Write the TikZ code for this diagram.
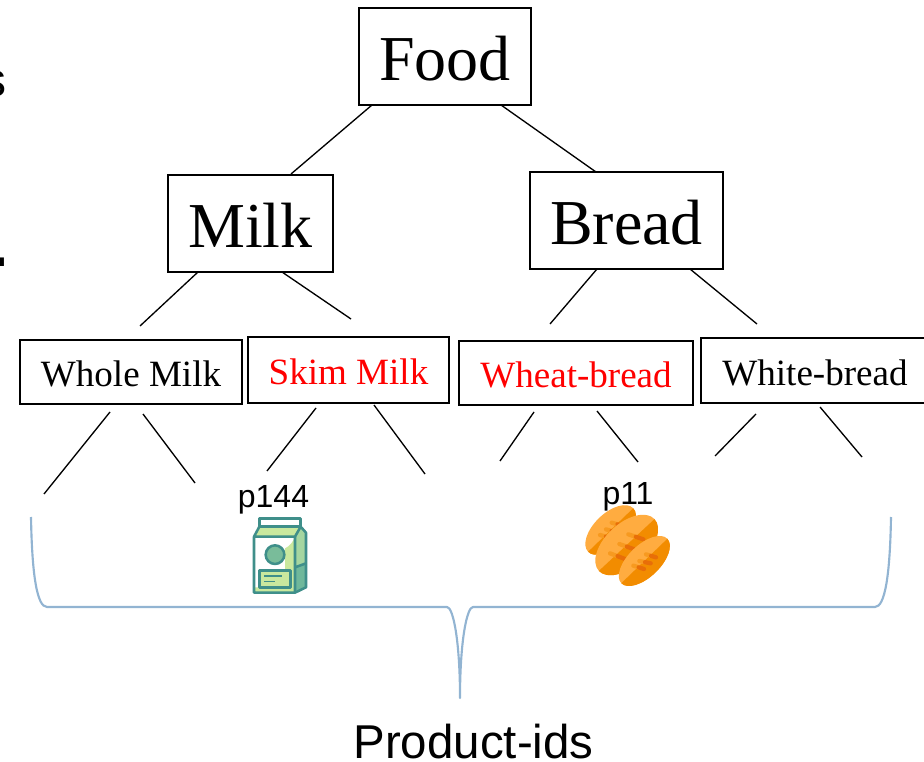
\documentclass[tikz,border=0pt]{standalone}
\usepackage{fontspec}
\setmainfont{Liberation Serif}
\newfontfamily\arialf{Liberation Sans}
\usetikzlibrary{calc}
\definecolor{bracec}{HTML}{92B4D2}
\definecolor{teal}{HTML}{3F8F8A}
\definecolor{lgreen}{HTML}{C9E89E}
\definecolor{mgreen}{HTML}{A5D6A0}
\definecolor{dgreen}{HTML}{6FB89B}
\definecolor{cgreen}{HTML}{79BC9A}
\definecolor{loaflight}{HTML}{FFAC40}
\definecolor{loafdark}{HTML}{F28C00}
\definecolor{scarlight}{HTML}{F79A20}
\definecolor{scardark}{HTML}{E86E08}
\tikzset{
  box/.style={draw=black,line width=1pt,inner sep=0pt,align=center},
  bigbox/.style={box,font=\fontsize{48}{48}\selectfont,text height=36pt,text depth=0pt},
  smallbox/.style={box,font=\fontsize{27.8}{30}\selectfont,text height=22pt,text depth=0pt},
  edge/.style={draw=black,line width=1pt},
  sanslabel/.style={font=\arialf\fontsize{24}{26}\selectfont,inner sep=0pt},
  brace/.style={draw=bracec,line width=1.6pt},
  cartonline/.style={draw=teal,line width=1.9pt,line join=round},
}
% \loaf{cx}{cy}{angle}{semi major}{semi minor}
\newcommand{\loaf}[5]{%
  \begin{scope}[shift={(#1,#2)},rotate=#3]
    \begin{scope}
      \clip (0,0) ellipse [x radius=#4,y radius=#5];
      \fill[loaflight] (-#4-5,-#5-5) rectangle (#4+5,#5+5);
      \fill[loafdark] (-#4-5,0) rectangle (#4+5,#5+5);
    \end{scope}
  \end{scope}}
\newcommand{\scar}[4]{%
  \draw[line width=3.2pt,line cap=round,scarlight] (#1,#2) -- ($(#1,#2)!0.5!(#3,#4)$);
  \draw[line width=3.2pt,line cap=round,scardark] ($(#1,#2)!0.5!(#3,#4)$) -- (#3,#4);}
\begin{document}
\begin{tikzpicture}[x=0.75pt,y=-0.75pt]
\useasboundingbox (0,0) rectangle (924,762);
\begin{scope}
\clip (0,0) rectangle (924,762);
\node[font=\arialf\fontsize{36}{36}\selectfont,anchor=base east,inner sep=0pt] (frag1) at (7,97) {s};
\node[font=\arialf\fontsize{60}{60}\selectfont,anchor=base east,inner sep=0pt] (frag2) at (12,267) {.};

\node[bigbox,minimum width=129pt,minimum height=72.75pt] (food) at (445,56.5) {Food};
\node[bigbox,minimum width=123.75pt,minimum height=72.75pt] (milk) at (250.5,223.5) {Milk};
\node[bigbox,minimum width=144.75pt,minimum height=72.75pt] (bread) at (626.5,220.5) {Bread};
\node[smallbox,minimum width=166.5pt,minimum height=48pt] (whole) at (131,372) {Whole Milk};
\node[smallbox,minimum width=150.75pt,minimum height=49.5pt,text=red] (skim) at (348.5,370) {Skim Milk};
\node[smallbox,minimum width=175.5pt,minimum height=48pt,text=red] (wheat) at (576,373) {Wheat-bread};
\node[smallbox,minimum width=171pt,minimum height=48.75pt] (white) at (815,370.5) {White-bread};

% connector ends
\coordinate (fa) at (372,105); \coordinate (ma) at (291,174);
\coordinate (fb) at (501,105); \coordinate (ba) at (596,172);
\coordinate (m1) at (198,272); \coordinate (w0) at (140,326);
\coordinate (m2) at (282,272); \coordinate (s0) at (351,319);
\coordinate (b1) at (597,269); \coordinate (h0) at (550,324);
\coordinate (b2) at (690,269); \coordinate (t0) at (757,324);
\coordinate (w1) at (110,412); \coordinate (w1e) at (44,494);
\coordinate (w2) at (143,414); \coordinate (w2e) at (195,483);
\coordinate (s1) at (316,408); \coordinate (s1e) at (267,471);
\coordinate (s2) at (374,405); \coordinate (s2e) at (425,474);
\coordinate (h1) at (534,412); \coordinate (h1e) at (500,461);
\coordinate (h2) at (597,411); \coordinate (h2e) at (638,462);
\coordinate (t1) at (756,414); \coordinate (t1e) at (715,456);
\coordinate (t2) at (820,407); \coordinate (t2e) at (862,457);
\foreach \a/\b in {fa/ma,fb/ba,m1/w0,m2/s0,b1/h0,b2/t0,w1/w1e,w2/w2e,s1/s1e,s2/s2e,h1/h1e,h2/h2e,t1/t1e,t2/t2e}
  \draw[edge] (\a) -- (\b);

% brace
\coordinate (brl) at (31,517); \coordinate (brr) at (891,517); \coordinate (brt) at (460,698);
\draw[brace,line join=round] (brl) .. controls (32,575) and (37,607) .. (47,607) -- (447,607)
  .. controls (453,607) and (460,640) .. (brt) .. controls (460,640) and (467,607) .. (473,607)
  -- (875,607) .. controls (885,607) and (890,575) .. (brr);

\node[font=\arialf\fontsize{35.6}{36}\selectfont,inner sep=0pt] (prod) at (473.5,742) {Product-ids};
\node[sanslabel] (p144) at (273.5,500) {p144};
\node[sanslabel] (p11) at (628,497) {p11};

% milk carton
\begin{scope}[shift={(230,480)},x=0.25pt,y=-0.25pt]
  \fill[white] (72,170) rectangle (195,338);
  \fill[lgreen] (165,205) .. controls (185,195) and (190,180) .. (195,172) -- (195,338) -- (72,338) -- (72,322) -- (165,322) -- cycle;
  \fill[mgreen] (195,170) -- (212,140) -- (228,158) -- (228,250) -- (195,262) -- cycle;
  \fill[dgreen] (195,262) -- (228,250) -- (228,322) -- (195,338) -- cycle;
  \fill[lgreen] (88,140) -- (212,140) -- (195,170) -- (72,170) -- cycle;
  \fill[white] (88,115) rectangle (212,140);
  \draw[cartonline] (88,115) rectangle (212,140);
  \draw[cartonline] (88,140) -- (72,170) -- (72,338) -- (195,338) -- (228,322) -- (228,158) -- (212,140) -- (195,170) -- (72,170);
  \draw[cartonline] (195,170) -- (195,338) (195,262) -- (228,250);
  \draw[cartonline,fill=cgreen] (135,224) circle (28);
  \draw[cartonline,fill=lgreen] (88,272) rectangle (182,322);
  \draw[cartonline,line width=1pt] (102,288) -- (156,288) (102,304) -- (135,304);
\end{scope}

% bread
\begin{scope}[shift={(570,480)},x=0.25pt,y=-0.25pt]
  \loaf{122}{150}{44}{94}{50}
  \scar{125}{128}{160}{138}
  \scar{108}{148}{142}{158}
  \scar{90}{165}{125}{175}
  \loaf{170}{195}{43}{114}{64}
  \scar{175}{163}{220}{178}
  \scar{148}{192}{193}{208}
  \scar{120}{220}{165}{237}
  \loaf{223}{243}{44}{96}{48}
  \scar{228}{223}{258}{232}
  \scar{208}{243}{242}{250}
  \scar{190}{257}{222}{267}
\end{scope}
\end{scope}
\end{tikzpicture}
\end{document}
